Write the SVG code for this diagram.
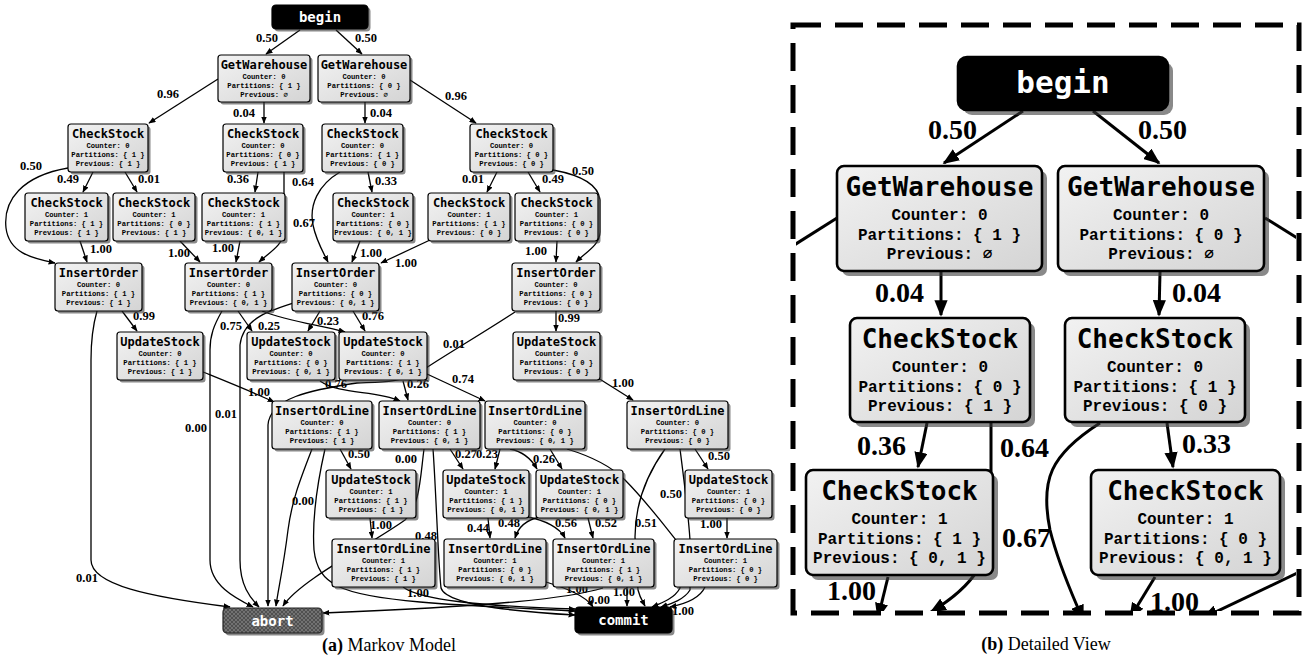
<svg xmlns="http://www.w3.org/2000/svg" width="1304" height="658" viewBox="0 0 1304 658">
<style>
.sh{fill:#3a3a3a;opacity:.6}
.bx{fill:url(#ng);stroke:#000;stroke-width:1.2}
.bk{fill:#000;stroke:#000;stroke-width:1.2}
.ab{fill:url(#hatch);stroke:#222;stroke-width:1.2}
.t{font-family:"DejaVu Sans Mono",monospace;font-weight:bold;font-size:12px;text-anchor:middle;fill:#000}
.tw{font-family:"DejaVu Sans Mono",monospace;font-weight:bold;font-size:14px;text-anchor:middle;fill:#fff}
.s{font-family:"Liberation Mono","Courier New",monospace;font-weight:bold;font-size:7.2px;text-anchor:middle;fill:#000}
.l{font-family:"Liberation Serif","Times New Roman",serif;font-weight:bold;font-size:12.5px;fill:#000}
.e path{fill:none;stroke:#000;stroke-width:1.3;marker-end:url(#ah)}
.bx2{fill:url(#ng);stroke:#000;stroke-width:2.6}
.bk2{fill:#000;stroke:#000;stroke-width:2.6}
.t2{font-family:"DejaVu Sans Mono",monospace;font-weight:bold;font-size:26px;text-anchor:middle;fill:#000}
.tw2{font-family:"DejaVu Sans Mono",monospace;font-weight:bold;font-size:31px;text-anchor:middle;fill:#fff}
.s2{font-family:"Liberation Mono","Courier New",monospace;font-weight:bold;font-size:16px;text-anchor:middle;fill:#000}
.l2{font-family:"Liberation Serif","Times New Roman",serif;font-weight:bold;font-size:28px;fill:#000}
.e2 path{fill:none;stroke:#000;stroke-width:3;marker-end:url(#ah)}
.cap{font-family:"Liberation Serif","Times New Roman",serif;font-size:18px;text-anchor:middle;fill:#000}
</style>
<defs>
<linearGradient id="ng" x1="0" y1="0" x2="1" y2="1">
<stop offset="0" stop-color="#f2f2f2"/>
<stop offset="1" stop-color="#d4d4d4"/>
</linearGradient>
<pattern id="hatch" width="4" height="4" patternUnits="userSpaceOnUse">
<rect width="4" height="4" fill="#505050"/>
<path d="M0,0 L4,4 M4,0 L0,4" stroke="#8a8a8a" stroke-width="0.6"/>
</pattern>
<marker id="ah" viewBox="0 0 10 8" refX="9" refY="4" markerWidth="5.5" markerHeight="4.4" orient="auto">
<path d="M0,0 L10,4 L0,8 z" fill="#000"/>
</marker>
<clipPath id="clipB"><rect x="796" y="28" width="500" height="583"/></clipPath>
</defs>

<g id="connectors" class="e">
<path d="M300,30 L266,54"/>
<path d="M336,30 L362,54"/>
<path d="M218,79 L149,123"/>
<path d="M264,102 L264,123"/>
<path d="M365,102 L365,123"/>
<path d="M410,80 L476,123"/>
<path d="M93,172 L83,192"/>
<path d="M125,172 L137,192"/>
<path d="M68,168 C22,176 3,200 6,228 C9,252 30,258 55,263"/>
<path d="M258,172 L255,192"/>
<path d="M284,172 L284,232 C283,245 270,252 259,262"/>
<path d="M368,172 L372,192"/>
<path d="M340,172 C318,185 309,205 313,225 C316,240 322,250 328,262"/>
<path d="M497,172 L487,192"/>
<path d="M528,172 L540,192"/>
<path d="M553,170 C575,174 598,182 600,200 L600,232 C600,245 586,252 576,262"/>
<path d="M80,241 L87,262"/>
<path d="M180,241 L200,262"/>
<path d="M240,241 L236,262"/>
<path d="M360,241 L352,262"/>
<path d="M430,240 L381,263"/>
<path d="M557,241 L556,262"/>
<path d="M122,311 L137,331"/>
<path d="M97,311 C93,325 91,340 91,360 L91,560 C91,585 150,597 230,607"/>
<path d="M238,311 L252,331"/>
<path d="M222,311 C214,325 210,335 210,350 L210,560 C210,585 235,598 253,607"/>
<path d="M300,301 C270,310 243,318 240,345 L240,560 C240,585 250,598 259,607"/>
<path d="M262,311 C290,322 320,325 345,332"/>
<path d="M320,311 L308,331"/>
<path d="M353,311 L365,331"/>
<path d="M556,311 L556,331"/>
<path d="M515,312 C480,335 445,355 420,372 C400,383 380,382 357,383 C310,390 270,398 268,425 L268,606"/>
<path d="M203,372 C235,385 255,393 274,402"/>
<path d="M320,381 C340,395 375,390 400,401"/>
<path d="M403,381 L408,400"/>
<path d="M427,374 L485,401"/>
<path d="M598,378 L633,400"/>
<path d="M340,449 L351,469"/>
<path d="M312,449 C300,480 292,500 288,530 C283,570 278,590 276,606"/>
<path d="M325,449 C318,480 312,520 314,550 C318,585 340,595 420,602 C480,607 540,609 575,611"/>
<path d="M424,449 C420,480 420,505 405,520 C370,545 300,580 283,606"/>
<path d="M433,449 C436,490 438,560 441,588 C446,605 520,612 575,615"/>
<path d="M450,449 L463,469"/>
<path d="M500,449 L495,469"/>
<path d="M510,449 C525,452 532,460 537,469"/>
<path d="M550,449 L562,469"/>
<path d="M567,449 C590,456 610,465 625,480 C645,500 660,520 680,545 L680,588 C675,598 662,603 652,607"/>
<path d="M546,582 C565,588 585,595 593,607"/>
<path d="M627,587 L627,606"/>
<path d="M603,588 C570,598 500,606 323,613"/>
<path d="M665,449 C650,470 635,500 635,537 L638,590 C640,598 643,602 645,606"/>
<path d="M695,449 L708,469"/>
<path d="M680,449 C684,480 688,510 690,540 L690,590 C684,600 670,604 661,607"/>
<path d="M370,518 L372,538"/>
<path d="M488,518 L490,538"/>
<path d="M527,517 C545,520 560,528 565,538"/>
<path d="M540,517 C525,520 518,528 515,538"/>
<path d="M588,518 L593,538"/>
<path d="M727,518 L727,538"/>
<path d="M705,587 C700,598 685,604 670,607"/>
<path d="M403,587 C420,600 480,606 575,609"/>
<text class="l" x="256" y="42">0.50</text>
<text class="l" x="355" y="42">0.50</text>
<text class="l" x="157" y="98">0.96</text>
<text class="l" x="233" y="117">0.04</text>
<text class="l" x="370" y="117">0.04</text>
<text class="l" x="445" y="100">0.96</text>
<text class="l" x="20" y="170">0.50</text>
<text class="l" x="57" y="183">0.49</text>
<text class="l" x="138" y="183">0.01</text>
<text class="l" x="227" y="183">0.36</text>
<text class="l" x="292" y="186">0.64</text>
<text class="l" x="375" y="185">0.33</text>
<text class="l" x="462" y="183">0.01</text>
<text class="l" x="542" y="183">0.49</text>
<text class="l" x="572" y="175">0.50</text>
<text class="l" x="90" y="253">1.00</text>
<text class="l" x="168" y="257">1.00</text>
<text class="l" x="212" y="252">1.00</text>
<text class="l" x="293" y="227">0.67</text>
<text class="l" x="360" y="257">1.00</text>
<text class="l" x="395" y="267">1.00</text>
<text class="l" x="525" y="255">1.00</text>
<text class="l" x="133" y="320">0.99</text>
<text class="l" x="220" y="330">0.75</text>
<text class="l" x="258" y="330">0.25</text>
<text class="l" x="317" y="325">0.23</text>
<text class="l" x="362" y="320">0.76</text>
<text class="l" x="443" y="348">0.01</text>
<text class="l" x="558" y="322">0.99</text>
<text class="l" x="248" y="396">1.00</text>
<text class="l" x="325" y="388">0.76</text>
<text class="l" x="407" y="388">0.26</text>
<text class="l" x="452" y="383">0.74</text>
<text class="l" x="612" y="387">1.00</text>
<text class="l" x="185" y="432">0.00</text>
<text class="l" x="215" y="418">0.01</text>
<text class="l" x="76" y="582">0.01</text>
<text class="l" x="348" y="458">0.50</text>
<text class="l" x="395" y="463">0.00</text>
<text class="l" x="455" y="458">0.27</text>
<text class="l" x="476" y="458">0.23</text>
<text class="l" x="533" y="463">0.26</text>
<text class="l" x="708" y="460">0.50</text>
<text class="l" x="292" y="505">0.00</text>
<text class="l" x="660" y="498">0.50</text>
<text class="l" x="370" y="529">1.00</text>
<text class="l" x="415" y="540">0.48</text>
<text class="l" x="467" y="532">0.44</text>
<text class="l" x="498" y="527">0.48</text>
<text class="l" x="555" y="527">0.56</text>
<text class="l" x="595" y="527">0.52</text>
<text class="l" x="635" y="527">0.51</text>
<text class="l" x="700" y="528">1.00</text>
<text class="l" x="407" y="597">1.00</text>
<text class="l" x="566" y="593">1.00</text>
<text class="l" x="588" y="604">0.00</text>
<text class="l" x="613" y="596">1.00</text>
<text class="l" x="672" y="615">1.00</text>
</g>

<g id="begin"><rect class="sh" x="274.5" y="7.5" width="96" height="24" rx="4"/><rect class="bk" x="272" y="5" width="96" height="24" rx="4"/><text class="tw" x="320" y="22">begin</text></g>

<g id="gw1"><rect class="sh" x="220.5" y="57.5" width="92" height="47" rx="3"/><rect class="bx" x="218" y="55" width="92" height="47" rx="3"/><text class="t" x="264" y="68.5">GetWarehouse</text><text class="s" x="264" y="79">Counter: 0</text><text class="s" x="264" y="88">Partitions: { 1 }</text><text class="s" x="264" y="97">Previous: ∅</text></g>
<g id="gw2"><rect class="sh" x="320.5" y="57.5" width="92" height="47" rx="3"/><rect class="bx" x="318" y="55" width="92" height="47" rx="3"/><text class="t" x="364" y="68.5">GetWarehouse</text><text class="s" x="364" y="79">Counter: 0</text><text class="s" x="364" y="88">Partitions: { 0 }</text><text class="s" x="364" y="97">Previous: ∅</text></g>

<g id="cs-a"><rect class="sh" x="70.5" y="126.5" width="80" height="48" rx="3"/><rect class="bx" x="68" y="124" width="80" height="48" rx="3"/><text class="t" x="108" y="137.5">CheckStock</text><text class="s" x="108" y="148">Counter: 0</text><text class="s" x="108" y="157">Partitions: { 1 }</text><text class="s" x="108" y="166">Previous: { 1 }</text></g>
<g id="cs-b"><rect class="sh" x="225.5" y="126.5" width="80" height="48" rx="3"/><rect class="bx" x="223" y="124" width="80" height="48" rx="3"/><text class="t" x="263" y="137.5">CheckStock</text><text class="s" x="263" y="148">Counter: 0</text><text class="s" x="263" y="157">Partitions: { 0 }</text><text class="s" x="263" y="166">Previous: { 1 }</text></g>
<g id="cs-c"><rect class="sh" x="324.5" y="126.5" width="81" height="48" rx="3"/><rect class="bx" x="322" y="124" width="81" height="48" rx="3"/><text class="t" x="362.5" y="137.5">CheckStock</text><text class="s" x="362.5" y="148">Counter: 0</text><text class="s" x="362.5" y="157">Partitions: { 1 }</text><text class="s" x="362.5" y="166">Previous: { 0 }</text></g>
<g id="cs-d"><rect class="sh" x="472.5" y="126.5" width="83" height="48" rx="3"/><rect class="bx" x="470" y="124" width="83" height="48" rx="3"/><text class="t" x="511.5" y="137.5">CheckStock</text><text class="s" x="511.5" y="148">Counter: 0</text><text class="s" x="511.5" y="157">Partitions: { 0 }</text><text class="s" x="511.5" y="166">Previous: { 0 }</text></g>

<g id="cs-e"><rect class="sh" x="27.5" y="195.5" width="83" height="48" rx="3"/><rect class="bx" x="25" y="193" width="83" height="48" rx="3"/><text class="t" x="66.5" y="206.5">CheckStock</text><text class="s" x="66.5" y="217">Counter: 1</text><text class="s" x="66.5" y="226">Partitions: { 1 }</text><text class="s" x="66.5" y="235">Previous: { 1 }</text></g>
<g id="cs-f"><rect class="sh" x="115.5" y="195.5" width="82" height="48" rx="3"/><rect class="bx" x="113" y="193" width="82" height="48" rx="3"/><text class="t" x="154" y="206.5">CheckStock</text><text class="s" x="154" y="217">Counter: 1</text><text class="s" x="154" y="226">Partitions: { 0 }</text><text class="s" x="154" y="235">Previous: { 1 }</text></g>
<g id="cs-g"><rect class="sh" x="204.5" y="195.5" width="83" height="48" rx="3"/><rect class="bx" x="202" y="193" width="83" height="48" rx="3"/><text class="t" x="243.5" y="206.5">CheckStock</text><text class="s" x="243.5" y="217">Counter: 1</text><text class="s" x="243.5" y="226">Partitions: { 1 }</text><text class="s" x="243.5" y="235">Previous: { 0, 1 }</text></g>
<g id="cs-h"><rect class="sh" x="335.5" y="195.5" width="80" height="48" rx="3"/><rect class="bx" x="333" y="193" width="80" height="48" rx="3"/><text class="t" x="373" y="206.5">CheckStock</text><text class="s" x="373" y="217">Counter: 1</text><text class="s" x="373" y="226">Partitions: { 0 }</text><text class="s" x="373" y="235">Previous: { 0, 1 }</text></g>
<g id="cs-i"><rect class="sh" x="430.5" y="195.5" width="82" height="48" rx="3"/><rect class="bx" x="428" y="193" width="82" height="48" rx="3"/><text class="t" x="469" y="206.5">CheckStock</text><text class="s" x="469" y="217">Counter: 1</text><text class="s" x="469" y="226">Partitions: { 1 }</text><text class="s" x="469" y="235">Previous: { 0 }</text></g>
<g id="cs-j"><rect class="sh" x="517.5" y="195.5" width="83" height="48" rx="3"/><rect class="bx" x="515" y="193" width="83" height="48" rx="3"/><text class="t" x="556.5" y="206.5">CheckStock</text><text class="s" x="556.5" y="217">Counter: 1</text><text class="s" x="556.5" y="226">Partitions: { 0 }</text><text class="s" x="556.5" y="235">Previous: { 0 }</text></g>

<g id="io-a"><rect class="sh" x="57.5" y="265.5" width="87" height="48" rx="3"/><rect class="bx" x="55" y="263" width="87" height="48" rx="3"/><text class="t" x="98.5" y="276.5">InsertOrder</text><text class="s" x="98.5" y="287">Counter: 0</text><text class="s" x="98.5" y="296">Partitions: { 1 }</text><text class="s" x="98.5" y="305">Previous: { 1 }</text></g>
<g id="io-b"><rect class="sh" x="187.5" y="265.5" width="87" height="48" rx="3"/><rect class="bx" x="185" y="263" width="87" height="48" rx="3"/><text class="t" x="228.5" y="276.5">InsertOrder</text><text class="s" x="228.5" y="287">Counter: 0</text><text class="s" x="228.5" y="296">Partitions: { 1 }</text><text class="s" x="228.5" y="305">Previous: { 0, 1 }</text></g>
<g id="io-c"><rect class="sh" x="294.5" y="265.5" width="87" height="48" rx="3"/><rect class="bx" x="292" y="263" width="87" height="48" rx="3"/><text class="t" x="335.5" y="276.5">InsertOrder</text><text class="s" x="335.5" y="287">Counter: 0</text><text class="s" x="335.5" y="296">Partitions: { 0 }</text><text class="s" x="335.5" y="305">Previous: { 0, 1 }</text></g>
<g id="io-d"><rect class="sh" x="514.5" y="265.5" width="88" height="48" rx="3"/><rect class="bx" x="512" y="263" width="88" height="48" rx="3"/><text class="t" x="556" y="276.5">InsertOrder</text><text class="s" x="556" y="287">Counter: 0</text><text class="s" x="556" y="296">Partitions: { 0 }</text><text class="s" x="556" y="305">Previous: { 0 }</text></g>

<g id="us-a"><rect class="sh" x="119.5" y="334.5" width="86" height="48" rx="3"/><rect class="bx" x="117" y="332" width="86" height="48" rx="3"/><text class="t" x="160" y="345.5">UpdateStock</text><text class="s" x="160" y="356">Counter: 0</text><text class="s" x="160" y="365">Partitions: { 1 }</text><text class="s" x="160" y="374">Previous: { 1 }</text></g>
<g id="us-b"><rect class="sh" x="249.5" y="334.5" width="88" height="48" rx="3"/><rect class="bx" x="247" y="332" width="88" height="48" rx="3"/><text class="t" x="291" y="345.5">UpdateStock</text><text class="s" x="291" y="356">Counter: 0</text><text class="s" x="291" y="365">Partitions: { 0 }</text><text class="s" x="291" y="374">Previous: { 0, 1 }</text></g>
<g id="us-c"><rect class="sh" x="341.5" y="334.5" width="88" height="48" rx="3"/><rect class="bx" x="339" y="332" width="88" height="48" rx="3"/><text class="t" x="383" y="345.5">UpdateStock</text><text class="s" x="383" y="356">Counter: 0</text><text class="s" x="383" y="365">Partitions: { 1 }</text><text class="s" x="383" y="374">Previous: { 0, 1 }</text></g>
<g id="us-d"><rect class="sh" x="515.5" y="334.5" width="87" height="48" rx="3"/><rect class="bx" x="513" y="332" width="87" height="48" rx="3"/><text class="t" x="556.5" y="345.5">UpdateStock</text><text class="s" x="556.5" y="356">Counter: 0</text><text class="s" x="556.5" y="365">Partitions: { 0 }</text><text class="s" x="556.5" y="374">Previous: { 0 }</text></g>

<g id="iol-a"><rect class="sh" x="274.5" y="403.5" width="100" height="48" rx="3"/><rect class="bx" x="272" y="401" width="100" height="48" rx="3"/><text class="t" x="322" y="415">InsertOrdLine</text><text class="s" x="322" y="425">Counter: 0</text><text class="s" x="322" y="434">Partitions: { 1 }</text><text class="s" x="322" y="443">Previous: { 1 }</text></g>
<g id="iol-b"><rect class="sh" x="381.5" y="403.5" width="101" height="48" rx="3"/><rect class="bx" x="379" y="401" width="101" height="48" rx="3"/><text class="t" x="429.5" y="415">InsertOrdLine</text><text class="s" x="429.5" y="425">Counter: 0</text><text class="s" x="429.5" y="434">Partitions: { 1 }</text><text class="s" x="429.5" y="443">Previous: { 0, 1 }</text></g>
<g id="iol-c"><rect class="sh" x="487.5" y="403.5" width="100" height="48" rx="3"/><rect class="bx" x="485" y="401" width="100" height="48" rx="3"/><text class="t" x="535" y="415">InsertOrdLine</text><text class="s" x="535" y="425">Counter: 0</text><text class="s" x="535" y="434">Partitions: { 0 }</text><text class="s" x="535" y="443">Previous: { 0, 1 }</text></g>
<g id="iol-d"><rect class="sh" x="629.5" y="403.5" width="101" height="48" rx="3"/><rect class="bx" x="627" y="401" width="101" height="48" rx="3"/><text class="t" x="677.5" y="415">InsertOrdLine</text><text class="s" x="677.5" y="425">Counter: 0</text><text class="s" x="677.5" y="434">Partitions: { 0 }</text><text class="s" x="677.5" y="443">Previous: { 0 }</text></g>

<g id="us-e"><rect class="sh" x="328.5" y="472.5" width="90" height="48" rx="3"/><rect class="bx" x="326" y="470" width="90" height="48" rx="3"/><text class="t" x="371" y="483.5">UpdateStock</text><text class="s" x="371" y="494">Counter: 1</text><text class="s" x="371" y="503">Partitions: { 1 }</text><text class="s" x="371" y="512">Previous: { 1 }</text></g>
<g id="us-f"><rect class="sh" x="445.5" y="472.5" width="86" height="48" rx="3"/><rect class="bx" x="443" y="470" width="86" height="48" rx="3"/><text class="t" x="486" y="483.5">UpdateStock</text><text class="s" x="486" y="494">Counter: 1</text><text class="s" x="486" y="503">Partitions: { 1 }</text><text class="s" x="486" y="512">Previous: { 0, 1 }</text></g>
<g id="us-g"><rect class="sh" x="538.5" y="472.5" width="87" height="48" rx="3"/><rect class="bx" x="536" y="470" width="87" height="48" rx="3"/><text class="t" x="579.5" y="483.5">UpdateStock</text><text class="s" x="579.5" y="494">Counter: 1</text><text class="s" x="579.5" y="503">Partitions: { 0 }</text><text class="s" x="579.5" y="512">Previous: { 0, 1 }</text></g>
<g id="us-h"><rect class="sh" x="687.5" y="472.5" width="87" height="48" rx="3"/><rect class="bx" x="685" y="470" width="87" height="48" rx="3"/><text class="t" x="728.5" y="483.5">UpdateStock</text><text class="s" x="728.5" y="494">Counter: 1</text><text class="s" x="728.5" y="503">Partitions: { 0 }</text><text class="s" x="728.5" y="512">Previous: { 0 }</text></g>

<g id="iol-e"><rect class="sh" x="334.5" y="541.5" width="103" height="48" rx="3"/><rect class="bx" x="332" y="539" width="103" height="48" rx="3"/><text class="t" x="383.5" y="553">InsertOrdLine</text><text class="s" x="383.5" y="563">Counter: 1</text><text class="s" x="383.5" y="572">Partitions: { 1 }</text><text class="s" x="383.5" y="581">Previous: { 1 }</text></g>
<g id="iol-f"><rect class="sh" x="446.5" y="541.5" width="102" height="48" rx="3"/><rect class="bx" x="444" y="539" width="102" height="48" rx="3"/><text class="t" x="495" y="553">InsertOrdLine</text><text class="s" x="495" y="563">Counter: 1</text><text class="s" x="495" y="572">Partitions: { 0 }</text><text class="s" x="495" y="581">Previous: { 0, 1 }</text></g>
<g id="iol-g"><rect class="sh" x="555.5" y="541.5" width="101" height="48" rx="3"/><rect class="bx" x="553" y="539" width="101" height="48" rx="3"/><text class="t" x="603.5" y="553">InsertOrdLine</text><text class="s" x="603.5" y="563">Counter: 1</text><text class="s" x="603.5" y="572">Partitions: { 1 }</text><text class="s" x="603.5" y="581">Previous: { 0, 1 }</text></g>
<g id="iol-h"><rect class="sh" x="676.5" y="541.5" width="103" height="48" rx="3"/><rect class="bx" x="674" y="539" width="103" height="48" rx="3"/><text class="t" x="725.5" y="553">InsertOrdLine</text><text class="s" x="725.5" y="563">Counter: 1</text><text class="s" x="725.5" y="572">Partitions: { 0 }</text><text class="s" x="725.5" y="581">Previous: { 0 }</text></g>

<g id="abort"><rect class="sh" x="225.5" y="610.5" width="99" height="25" rx="4"/><rect class="ab" x="223" y="608" width="99" height="25" rx="4"/><text class="tw" x="272.5" y="625.5">abort</text></g>
<g id="commit"><rect class="sh" x="577.5" y="609.5" width="97" height="26" rx="4"/><rect class="bk" x="575" y="607" width="97" height="26" rx="4"/><text class="tw" x="623.5" y="625">commit</text></g>

<text class="cap" x="389" y="651"><tspan font-weight="bold">(a)</tspan> Markov Model</text>

<g id="connectors-b" class="e2" clip-path="url(#clipB)">
<path d="M1023,111 L944,163"/>
<path d="M1093,111 L1159,163"/>
<path d="M837,218 L780,254"/>
<path d="M1265,218 L1320,252"/>
<path d="M941,272 L941,315"/>
<path d="M1160,272 L1159,315"/>
<path d="M927,423 L918,467"/>
<path d="M991,423 L991,520 C990,560 975,585 931,612"/>
<path d="M1100,423 C1050,455 1040,480 1050,530 C1060,570 1075,600 1083,620"/>
<path d="M1167,423 L1173,467"/>
<path d="M888,577 L878,618"/>
<path d="M1155,577 L1130,618"/>
<path d="M1310,567 L1203,618"/>
<text class="l2" x="928" y="139">0.50</text>
<text class="l2" x="1138" y="139">0.50</text>
<text class="l2" x="875" y="302">0.04</text>
<text class="l2" x="1172" y="302">0.04</text>
<text class="l2" x="857" y="455">0.36</text>
<text class="l2" x="1000" y="457">0.64</text>
<text class="l2" x="1182" y="453">0.33</text>
<text class="l2" x="1002" y="547">0.67</text>
<text class="l2" x="827" y="600">1.00</text>
<text class="l2" x="1150" y="611">1.00</text>
</g>

<g id="begin-b"><rect class="sh" x="963" y="62" width="210" height="53" rx="9"/><rect class="bk2" x="958" y="57" width="210" height="53" rx="9"/><text class="tw2" x="1063" y="93">begin</text></g>
<g id="gw1-b"><rect class="sh" x="842" y="171" width="205" height="105" rx="7"/><rect class="bx2" x="837" y="166" width="205" height="105" rx="7"/><text class="t2" x="939.5" y="196">GetWarehouse</text><text class="s2" x="939.5" y="220">Counter: 0</text><text class="s2" x="939.5" y="240">Partitions: { 1 }</text><text class="s2" x="939.5" y="259">Previous: ∅</text></g>
<g id="gw2-b"><rect class="sh" x="1063" y="171" width="206" height="105" rx="7"/><rect class="bx2" x="1058" y="166" width="206" height="105" rx="7"/><text class="t2" x="1161" y="196">GetWarehouse</text><text class="s2" x="1161" y="220">Counter: 0</text><text class="s2" x="1161" y="240">Partitions: { 0 }</text><text class="s2" x="1161" y="259">Previous: ∅</text></g>
<g id="cs-b-b"><rect class="sh" x="855" y="323" width="180" height="104" rx="7"/><rect class="bx2" x="850" y="318" width="180" height="104" rx="7"/><text class="t2" x="940" y="348">CheckStock</text><text class="s2" x="940" y="372">Counter: 0</text><text class="s2" x="940" y="392">Partitions: { 0 }</text><text class="s2" x="940" y="411">Previous: { 1 }</text></g>
<g id="cs-c-b"><rect class="sh" x="1070" y="323" width="180" height="104" rx="7"/><rect class="bx2" x="1065" y="318" width="180" height="104" rx="7"/><text class="t2" x="1155" y="348">CheckStock</text><text class="s2" x="1155" y="372">Counter: 0</text><text class="s2" x="1155" y="392">Partitions: { 1 }</text><text class="s2" x="1155" y="411">Previous: { 0 }</text></g>
<g id="cs-g-b"><rect class="sh" x="811" y="475" width="187" height="105" rx="7"/><rect class="bx2" x="806" y="470" width="187" height="105" rx="7"/><text class="t2" x="899.5" y="500">CheckStock</text><text class="s2" x="899.5" y="524">Counter: 1</text><text class="s2" x="899.5" y="544">Partitions: { 1 }</text><text class="s2" x="899.5" y="563">Previous: { 0, 1 }</text></g>
<g id="cs-h-b"><rect class="sh" x="1096" y="475" width="189" height="105" rx="7"/><rect class="bx2" x="1091" y="470" width="189" height="105" rx="7"/><text class="t2" x="1185.5" y="500">CheckStock</text><text class="s2" x="1185.5" y="524">Counter: 1</text><text class="s2" x="1185.5" y="544">Partitions: { 0 }</text><text class="s2" x="1185.5" y="563">Previous: { 0, 1 }</text></g>

<rect id="detail-frame" x="793" y="25" width="506" height="588" fill="none" stroke="#000" stroke-width="5" stroke-dasharray="28 14"/>
<text class="cap" x="1046" y="650"><tspan font-weight="bold">(b)</tspan> Detailed View</text>
</svg>
